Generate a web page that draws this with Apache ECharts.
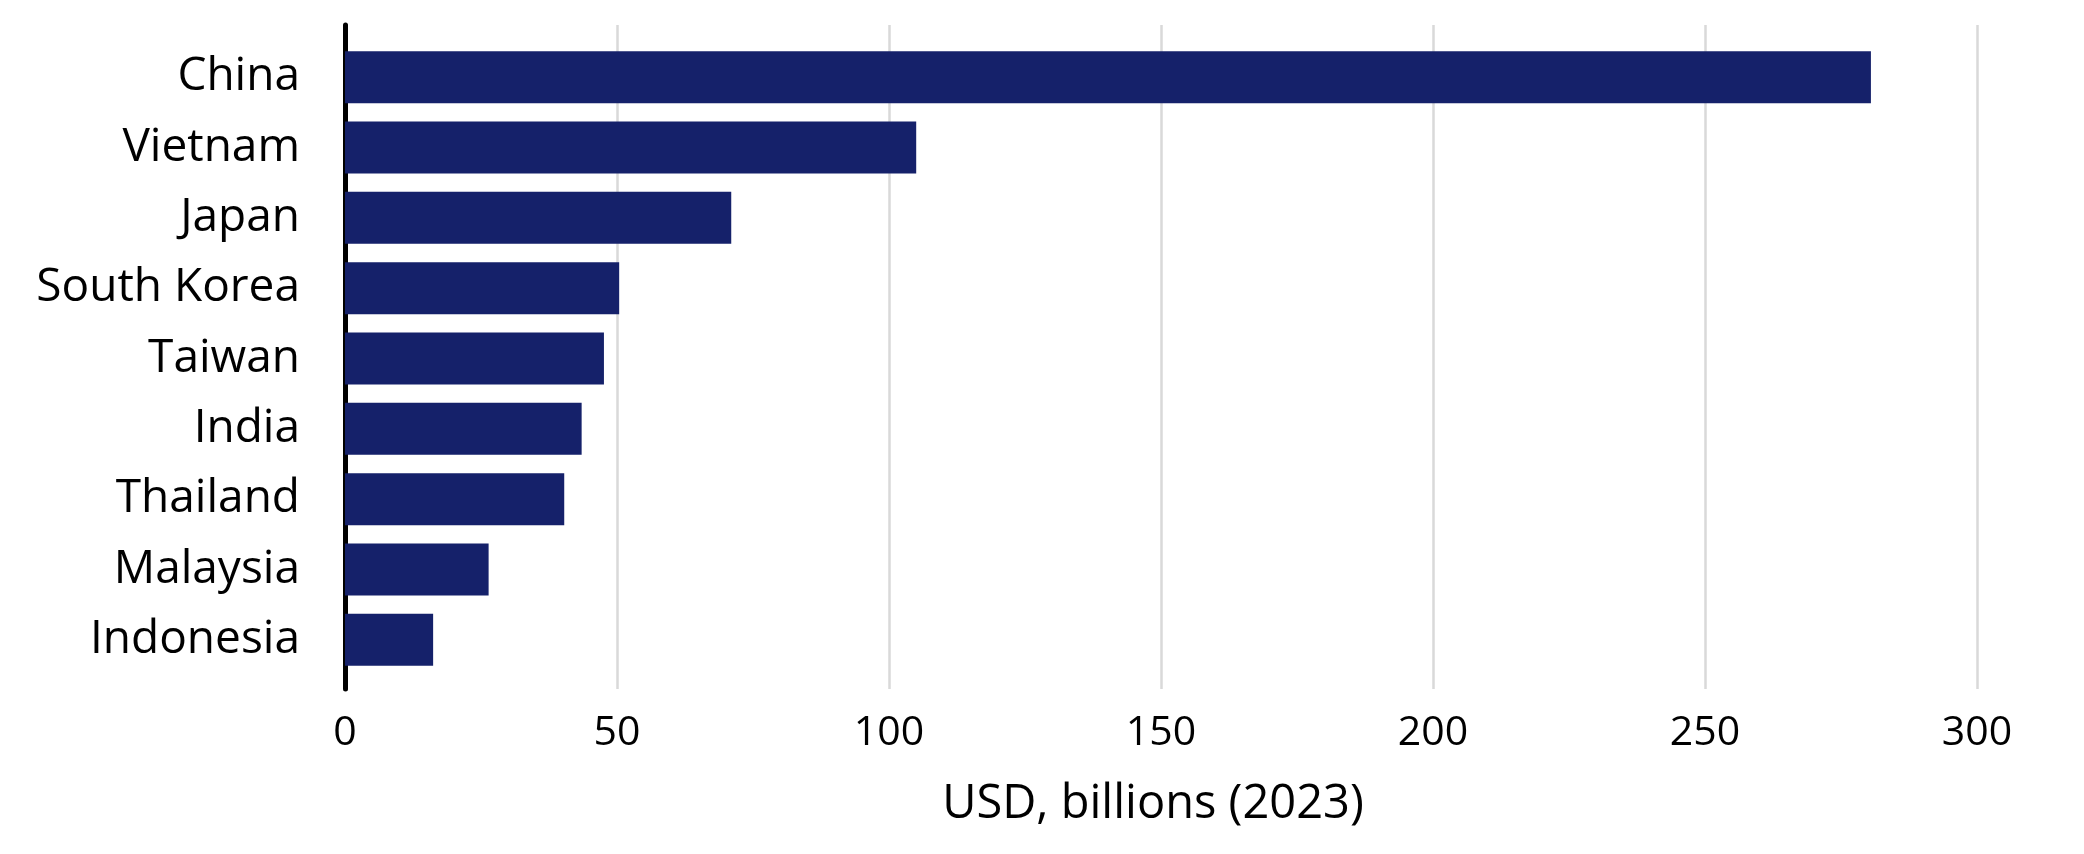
<!DOCTYPE html>
<html>
<head>
<meta charset="utf-8">
<script src="https://cdn.jsdelivr.net/npm/echarts@6/dist/echarts.min.js"></script>
<style>
html,body{margin:0;padding:0;background:#fff;}
#chart{width:2084px;height:854px;}
</style>
</head>
<body>
<div id="chart"></div>
<script>
const categories = ['China','Vietnam','Japan','South Korea','Taiwan','India','Thailand','Malaysia','Indonesia'];
const values = [280.5, 105, 71, 50.4, 47.6, 43.5, 40.3, 26.4, 16.2];
const xTicks = {min: 0, max: 300, interval: 50};
const xTitle = 'USD, billions (2023)';

const FONT = '"Open Sans", sans-serif';
const chart = echarts.init(document.getElementById('chart'));
chart.setOption({
  animation: false,
  backgroundColor: '#fff',
  grid: [
    {left: 345, right: 107, top: 25, bottom: 165},
    {left: 345, right: 107, top: 42, bottom: 179}
  ],
  xAxis: [
    {
      gridIndex: 0, type: 'value', min: xTicks.min, max: xTicks.max, interval: xTicks.interval,
      axisLine: {show: false}, axisTick: {show: false},
      splitLine: {show: true, lineStyle: {color: '#d9d9d9', width: 2.5}},
      axisLabel: {fontFamily: FONT, fontSize: 41, lineHeight: 41, color: '#000', margin: 24},
      name: xTitle, nameLocation: 'middle', nameGap: 92,
      nameTextStyle: {fontFamily: FONT, fontSize: 47, lineHeight: 47, color: '#000', padding: [0, 16, 0, 0]}
    },
    {gridIndex: 1, type: 'value', min: xTicks.min, max: xTicks.max, show: false}
  ],
  yAxis: [
    {
      gridIndex: 0, type: 'value', min: 0, max: 1,
      axisLine: {show: true, lineStyle: {color: '#000', width: 5}},
      axisTick: {show: false}, axisLabel: {show: false}, splitLine: {show: false}
    },
    {
      gridIndex: 1, type: 'category', inverse: true, data: categories,
      axisLine: {show: false}, axisTick: {show: false}, splitLine: {show: false},
      axisLabel: {fontFamily: FONT, fontSize: 46, color: '#000', margin: 45}
    }
  ],
  series: [{
    type: 'bar', xAxisIndex: 1, yAxisIndex: 1,
    data: values, barCategoryGap: '26%',
    itemStyle: {color: '#15216A'}
  }]
});
</script>
</body>
</html>
